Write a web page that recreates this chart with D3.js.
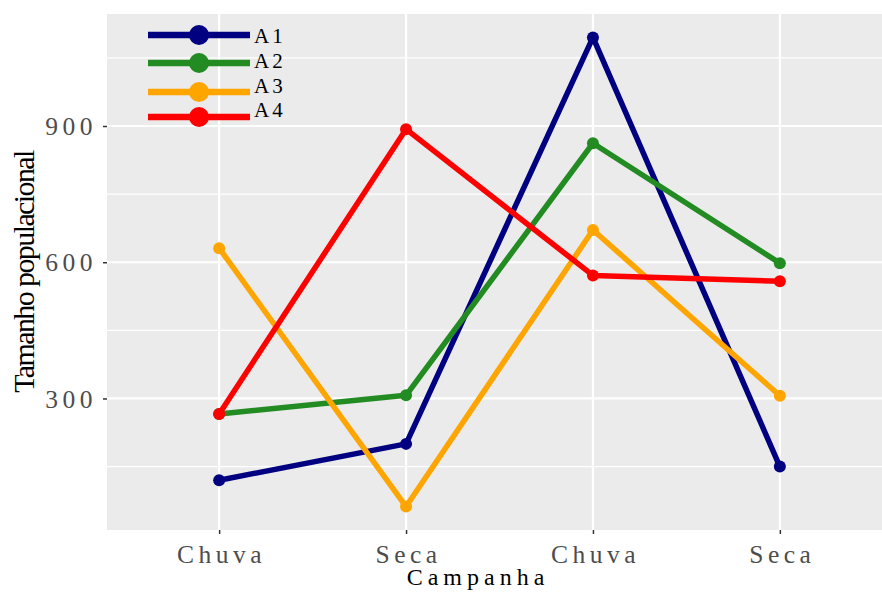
<!DOCTYPE html>
<html>
<head>
<meta charset="utf-8">
<script src="https://cdn.jsdelivr.net/npm/d3@7"></script>
<style>
  body { margin: 0; background: #fff; }
  svg text { font-family: "Liberation Serif", "DejaVu Serif", serif; }
</style>
</head>
<body>
<div id="chart"></div>
<script>
// campaign labels (x axis) and populations per area
const campanhas = ["Chuva", "Seca", "Chuva", "Seca"];
const areas = ["A1", "A2", "A3", "A4"];
const colors = ["#000080", "#228B22", "#FFA500", "#FF0000"];
const A1 = [120, 200, 1095, 150];
const A2 = [266, 307, 862, 598];
const A3 = [631, 62, 671, 306];
const A4 = [266, 893, 571, 558];
const yTicks = [300, 600, 900];
const yMinor = [150, 450, 750, 1050];

const series = [A1, A2, A3, A4];

const W = 882, H = 592;
const panel = { left: 107, top: 14, right: 892, bottom: 530 };

const svg = d3.select("#chart")
  .append("svg")
  .attr("width", W)
  .attr("height", H);

// ggplot-like expansion: 5% continuous, 0.6 discrete
const allVals = series.flat();
const lo = d3.min(allVals), hi = d3.max(allVals);
const pad = (hi - lo) * 0.05;

const x = d3.scaleLinear()
  .domain([-0.6, campanhas.length - 1 + 0.6])
  .range([panel.left, panel.right]);

const y = d3.scaleLinear()
  .domain([lo - pad, hi + pad])
  .range([panel.bottom, panel.top]);

// panel background
svg.append("rect")
  .attr("x", panel.left)
  .attr("y", panel.top)
  .attr("width", panel.right - panel.left)
  .attr("height", panel.bottom - panel.top)
  .attr("fill", "#EBEBEB");

// grid
svg.selectAll(".minor")
  .data(yMinor)
  .enter().append("line")
  .attr("x1", panel.left).attr("x2", panel.right)
  .attr("y1", d => y(d)).attr("y2", d => y(d))
  .attr("stroke", "#fff").attr("stroke-width", 1.1);

svg.selectAll(".major")
  .data(yTicks)
  .enter().append("line")
  .attr("x1", panel.left).attr("x2", panel.right)
  .attr("y1", d => y(d)).attr("y2", d => y(d))
  .attr("stroke", "#fff").attr("stroke-width", 2.2);

svg.selectAll(".vmajor")
  .data(campanhas)
  .enter().append("line")
  .attr("x1", (d, i) => x(i)).attr("x2", (d, i) => x(i))
  .attr("y1", panel.top).attr("y2", panel.bottom)
  .attr("stroke", "#fff").attr("stroke-width", 2.2);

// axes
const xAxis = svg.append("g")
  .attr("transform", "translate(0," + panel.bottom + ")")
  .call(d3.axisBottom(x)
    .tickValues(d3.range(campanhas.length))
    .tickFormat(i => campanhas[i])
    .tickSize(4)
    .tickPadding(5));

const yAxis = svg.append("g")
  .attr("transform", "translate(" + panel.left + ",0)")
  .call(d3.axisLeft(y)
    .tickValues(yTicks)
    .tickSize(4)
    .tickPadding(6));

[xAxis, yAxis].forEach(g => {
  g.select(".domain").remove();
  g.selectAll(".tick line").attr("stroke", "#333").attr("stroke-width", 1.5);
  g.selectAll(".tick text")
    .attr("fill", "#4D4D4D")
    .style("font-size", "25.5px")
    .style("letter-spacing", "4.5px");
});
xAxis.selectAll(".tick text").attr("dy", "0.95em").attr("dx", "2px");
yAxis.selectAll(".tick text").attr("dy", "0.34em");

// lines and points
const line = d3.line()
  .x((d, i) => x(i))
  .y(d => y(d));

series.forEach((s, k) => {
  svg.append("path")
    .datum(s)
    .attr("fill", "none")
    .attr("stroke", colors[k])
    .attr("stroke-width", 5.5)
    .attr("stroke-linejoin", "round")
    .attr("d", line);

  svg.selectAll(".pt" + k)
    .data(s)
    .enter().append("circle")
    .attr("cx", (d, i) => x(i))
    .attr("cy", d => y(d))
    .attr("r", 6)
    .attr("fill", colors[k]);
});

// legend inside panel
const keyY = [35, 63, 92, 117];
const textY = [43, 68, 93, 117];
const legend = svg.append("g");
areas.forEach((a, k) => {
  legend.append("line")
    .attr("x1", 148).attr("x2", 250)
    .attr("y1", keyY[k]).attr("y2", keyY[k])
    .attr("stroke", colors[k]).attr("stroke-width", 6.5);
  legend.append("circle")
    .attr("cx", 199).attr("cy", keyY[k])
    .attr("r", 10).attr("fill", colors[k]);
  legend.append("text")
    .attr("x", 254).attr("y", textY[k])
    .style("font-size", "21px")
    .style("letter-spacing", "3px")
    .attr("fill", "#000")
    .text(a);
});

// titles
svg.append("text")
  .attr("x", 478)
  .attr("y", 585)
  .attr("text-anchor", "middle")
  .style("font-size", "24px")
  .style("letter-spacing", "5px")
  .attr("fill", "#000")
  .text("Campanha");

svg.append("text")
  .attr("transform", "translate(34," + ((panel.top + panel.bottom) / 2) + ") rotate(-90)")
  .attr("text-anchor", "middle")
  .style("font-size", "30px")
  .style("letter-spacing", "-1.6px")
  .attr("fill", "#000")
  .text("Tamanho populacional");
</script>
</body>
</html>
